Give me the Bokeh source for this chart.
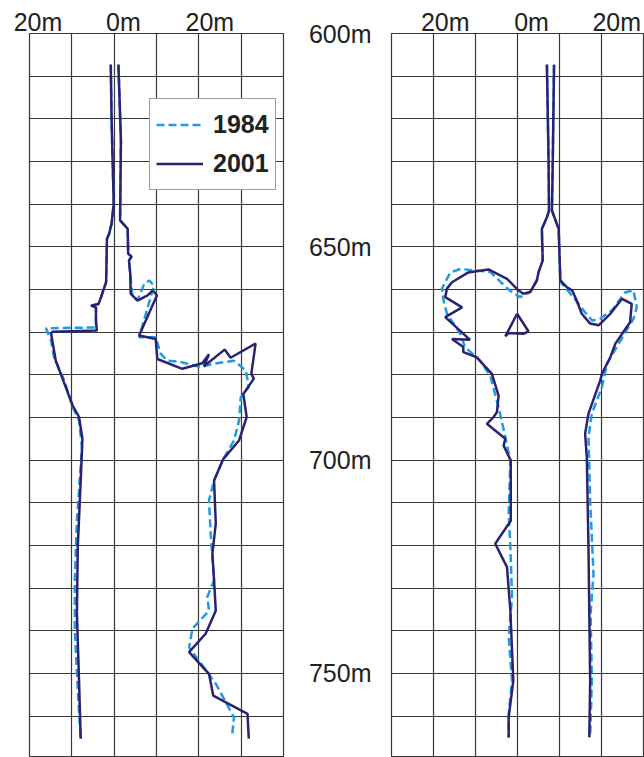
from bokeh.plotting import figure
from bokeh.layouts import row
from bokeh.models import (Range1d, SingleIntervalTicker, FixedTicker, LinearAxis,
                          Legend, LegendItem)
from bokeh.embed import file_html
from bokeh.resources import INLINE

# ---------------- data (offset from survey line in m, depth in m) -------------
# left profile
L2001_left_d = [607.3, 620.4, 639.9, 644.5, 647.0, 648.1, 658.3, 661.8, 663.4, 663.8, 664.2, 667.3, 669.6, 669.9, 670.3, 676.7, 680.9, 687.2, 689.9, 695.0, 704.8, 720.4, 736.0, 751.7, 765.3]
L2001_left_x = [-0.8, -0.6, -0.1, -0.6, -1.2, -1.7, -1.9, -3.1, -3.7, -5.5, -4.3, -4.3, -4.1, -14.5, -14.9, -13.8, -12.2, -9.8, -8.3, -7.5, -7.9, -8.6, -8.8, -8.3, -7.9]
L1984_left_d = [607.3, 620.4, 639.9, 644.5, 647.0, 648.1, 658.3, 661.8, 663.4, 663.8, 664.2, 667.3, 668.9, 669.1, 672.0, 675.9, 681.3, 687.6, 690.7, 697.0, 714.2, 728.2, 739.9, 755.6, 765.3]
L1984_left_x = [-0.8, -0.6, -0.1, -0.6, -1.2, -1.7, -1.9, -3.1, -3.7, -5.5, -4.3, -4.3, -4.3, -16.1, -14.9, -14.2, -11.8, -9.8, -8.3, -7.6, -8.8, -9.3, -9.3, -8.5, -7.9]
L2001_right_d = [607.3, 625.1, 643.8, 645.8, 651.6, 652.3, 653.2, 656.3, 661.0, 662.6, 661.4, 660.2, 661.4, 670.8, 671.6, 676.3, 678.6, 677.3, 675.2, 678.0, 674.1, 676.0, 672.7, 679.8, 680.9, 684.5, 689.9, 695.4, 699.7, 704.8, 714.9, 722.0, 728.2, 735.3, 740.7, 745.0, 750.1, 755.2, 759.5, 765.3]
L2001_right_x = [1.0, 1.6, 1.4, 3.2, 3.3, 4.1, 3.5, 3.8, 3.9, 5.5, 7.9, 9.1, 10.1, 5.9, 9.8, 10.2, 16.1, 20.8, 22.4, 21.2, 26.1, 27.5, 33.4, 32.4, 33.0, 30.5, 31.3, 29.5, 25.8, 23.6, 24.0, 23.2, 23.6, 24.0, 21.6, 17.7, 22.4, 23.4, 31.5, 31.8]
L1984_right_d = [607.3, 625.1, 643.8, 645.8, 651.6, 652.3, 653.2, 656.3, 661.4, 662.5, 658.7, 657.9, 659.1, 671.2, 671.2, 675.1, 676.7, 677.0, 678.2, 677.4, 676.7, 679.0, 682.9, 685.3, 690.7, 695.4, 700.1, 704.8, 709.5, 717.3, 728.2, 732.1, 735.3, 739.5, 743.9, 752.4, 760.3, 764.2]
L1984_right_x = [1.0, 1.6, 1.4, 3.2, 3.3, 4.1, 3.5, 3.8, 4.3, 5.5, 7.1, 8.3, 9.4, 5.9, 9.8, 11.0, 12.6, 15.7, 20.4, 23.6, 28.3, 31.1, 31.8, 29.9, 29.5, 28.3, 25.6, 23.6, 22.4, 22.8, 23.6, 22.0, 22.4, 18.5, 17.7, 24.0, 28.3, 27.9]

# right profile
R2001_left_d = [607.3, 629.8, 641.5, 643.1, 645.8, 653.2, 656.0, 657.9, 660.6, 661.0, 660.2, 657.5, 655.3, 656.0, 658.3, 659.8, 661.8, 664.2, 666.5, 671.8, 671.6, 673.5, 674.7, 675.9, 679.8, 684.9, 688.8, 689.9, 691.5, 695.0, 696.6, 700.1, 714.2, 719.6, 725.1, 735.3, 751.7, 760.3, 765.0]
R2001_left_x = [7.0, 7.4, 7.5, 7.0, 5.8, 6.0, 5.0, 4.6, 3.0, 1.4, 0.2, -2.5, -6.9, -11.7, -15.6, -16.8, -17.2, -13.2, -17.2, -11.3, -15.6, -12.9, -12.9, -9.7, -6.1, -4.5, -4.9, -5.7, -7.3, -2.9, -3.3, -1.6, -1.6, -5.3, -2.5, -1.7, -1.0, -2.1, -2.1]
R1984_left_d = [607.3, 629.8, 641.5, 643.1, 645.8, 653.2, 656.0, 657.9, 660.6, 661.8, 660.4, 655.9, 655.2, 656.0, 659.8, 662.6, 665.7, 670.4, 673.5, 676.7, 680.2, 687.6, 694.6, 700.1, 712.6, 720.4, 732.1, 741.5, 751.7, 759.5, 765.0]
R1984_left_x = [7.0, 7.4, 7.5, 7.0, 5.8, 6.0, 5.0, 4.6, 3.0, 0.6, -1.7, -6.5, -13.6, -16.0, -18.0, -17.6, -16.8, -13.6, -12.5, -8.9, -6.5, -4.5, -2.9, -1.7, -2.1, -1.7, -1.3, -2.1, -1.3, -2.1, -2.1]
R2001_right_d = [607.3, 629.8, 641.5, 645.8, 657.9, 659.5, 660.2, 662.6, 665.7, 668.0, 668.4, 665.7, 662.2, 663.4, 667.7, 672.7, 675.9, 679.8, 681.3, 689.1, 693.8, 699.3, 720.4, 736.0, 751.7, 765.0]
R2001_right_x = [8.7, 8.4, 8.2, 9.8, 10.2, 11.8, 13.0, 14.1, 15.3, 17.3, 19.3, 22.1, 24.9, 27.2, 26.8, 23.3, 22.1, 20.1, 19.7, 16.9, 16.1, 16.5, 16.9, 17.1, 17.3, 17.1]
R1984_right_d = [607.3, 629.8, 641.5, 645.8, 657.9, 658.7, 661.8, 664.9, 667.3, 666.8, 664.9, 660.7, 660.2, 664.2, 666.9, 672.0, 677.4, 682.9, 689.1, 694.6, 709.5, 726.7, 736.0, 751.7, 765.0]
R1984_right_x = [8.7, 8.4, 8.2, 9.8, 10.2, 10.6, 13.3, 15.7, 17.8, 19.7, 22.5, 25.6, 27.6, 28.4, 27.6, 24.5, 21.3, 20.1, 17.7, 16.9, 17.3, 18.1, 17.4, 17.7, 17.3]
R2001_block_d = [665.7, 671.0, 670.2, 670.4, 669.8, 665.7]
R2001_block_x = [-0.1, -2.9, -2.1, 1.4, 2.6, -0.1]

top_ticks = [-20, 0, 20]
top_labels = ["20m", "0m", "20m"]
depth_ticks = [600, 650, 700, 750]
depth_labels = ["600m", "650m", "700m", "750m"]
series_names = ["1984", "2001"]

# ---------------- styling ----------------
C1984 = "#1d9ce2"
C2001 = "#2a2273"
GRID = "#383838"
TXT = "#222222"
FONT = "Liberation Sans"
H = 757
TOP = 33
PX_PER_M = 4.266
Y_BOTTOM = 600 + (H - TOP) / PX_PER_M


def make_fig(width, xr, border_left, border_right):
    p = figure(width=width, height=H, output_backend="svg", toolbar_location=None,
               x_range=Range1d(*xr), y_range=Range1d(Y_BOTTOM, 600),
               x_axis_location=None, min_border_left=border_left,
               min_border_right=border_right, min_border_top=TOP, min_border_bottom=0,
               background_fill_color="white", border_fill_color="white")
    p.xgrid.ticker = SingleIntervalTicker(interval=10)
    p.ygrid.ticker = SingleIntervalTicker(interval=10)
    p.grid.grid_line_color = GRID
    p.grid.grid_line_width = 1.2
    p.grid.grid_line_alpha = 1.0
    p.outline_line_color = GRID
    p.outline_line_width = 1.2
    p.outline_line_alpha = 1.0
    return p


def add_top_axis(p, px_offsets, frame_px):
    # labels are centred on their tick; ticks nudged so "20"/"0" sits over the grid line
    span = p.x_range.end - p.x_range.start
    scale = frame_px / span
    pos = [t + o / scale for t, o in zip(top_ticks, px_offsets)]
    ax = LinearAxis(ticker=FixedTicker(ticks=pos),
                    major_label_overrides={v: l for v, l in zip(pos, top_labels)})
    ax.axis_line_color = None
    ax.major_tick_line_color = None
    ax.minor_tick_line_color = None
    ax.major_tick_in = 0
    ax.major_tick_out = 0
    ax.major_label_standoff = -2
    ax.major_label_text_baseline = "alphabetic"
    ax.major_label_text_font = FONT
    ax.major_label_text_font_size = "25px"
    ax.major_label_text_color = TXT
    p.add_layout(ax, "above")


# ---------------- left panel ----------------
p1 = make_fig(300, (-20, 40), 29, 17)
p1.yaxis.visible = False
r84a = p1.line(L1984_left_x, L1984_left_d, line_color=C1984, line_width=2.5, line_dash="8 4")
r84b = p1.line(L1984_right_x, L1984_right_d, line_color=C1984, line_width=2.5, line_dash="8 4")
r01a = p1.line(L2001_left_x, L2001_left_d, line_color=C2001, line_width=2.5)
r01b = p1.line(L2001_right_x, L2001_right_d, line_color=C2001, line_width=2.5)
add_top_axis(p1, [8.5, 9.2, 11], 254)

legend = Legend(items=[LegendItem(label=series_names[0], renderers=[r84a]),
                       LegendItem(label=series_names[1], renderers=[r01a])],
                location=(120, 567), margin=0, padding=6, spacing=0,
                glyph_width=47, glyph_height=39, label_height=39, label_standoff=10,
                label_text_font=FONT, label_text_font_size="25px",
                label_text_font_style="bold", label_text_color=TXT,
                border_line_color="#3a3a3a", border_line_width=1.5,
                background_fill_color="white", background_fill_alpha=1.0)
p1.add_layout(legend)

# ---------------- right panel ----------------
p2 = make_fig(344, (-30, 30), 91, 1)
p2.line(R1984_left_x, R1984_left_d, line_color=C1984, line_width=2.5, line_dash="8 4")
p2.line(R1984_right_x, R1984_right_d, line_color=C1984, line_width=2.5, line_dash="8 4")
p2.line(R2001_left_x, R2001_left_d, line_color=C2001, line_width=2.5)
p2.line(R2001_right_x, R2001_right_d, line_color=C2001, line_width=2.5)
p2.line(R2001_block_x, R2001_block_d, line_color=C2001, line_width=2.5)
add_top_axis(p2, [11.8, 14, 15.3], 252)

ax = p2.yaxis[0]
ax.ticker = FixedTicker(ticks=depth_ticks)
ax.major_label_overrides = {t: l for t, l in zip(depth_ticks, depth_labels)}
ax.axis_line_color = None
ax.major_tick_line_color = None
ax.minor_tick_line_color = None
ax.major_tick_in = 0
ax.major_tick_out = 0
ax.major_label_standoff = 20
ax.major_label_text_font = FONT
ax.major_label_text_font_size = "25px"
ax.major_label_text_color = TXT

layout = row(p1, p2)
open("out.html", "w").write(file_html(layout, INLINE))
